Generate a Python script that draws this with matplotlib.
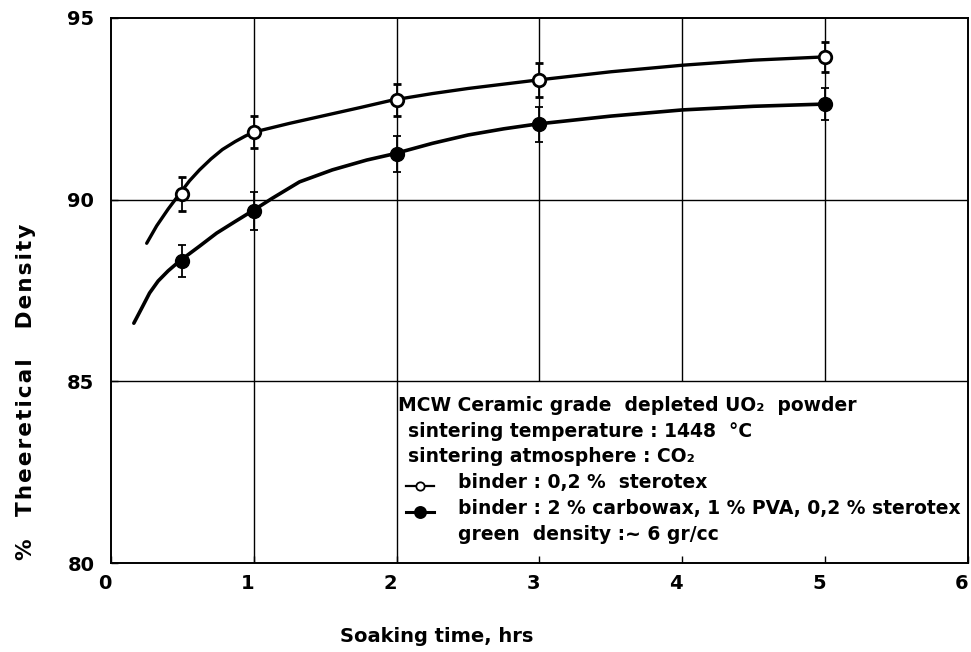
import matplotlib
matplotlib.use("Agg")
import matplotlib.pyplot as plt
import matplotlib.transforms as mtransforms
from matplotlib.lines import Line2D

# ---- data ----
x_pts = [0.5, 1.0, 2.0, 3.0, 5.0]
sterotex_y = [90.16, 91.86, 92.74, 93.29, 93.93]
sterotex_err = [0.46, 0.44, 0.45, 0.46, 0.42]
mixed_y = [88.31, 89.69, 91.26, 92.08, 92.63]
mixed_err = [0.45, 0.52, 0.49, 0.48, 0.45]

# fitted curves
sterotex_curve_x = [0.25, 0.32, 0.40, 0.48, 0.55, 0.62, 0.70, 0.78, 0.87, 0.94, 1.0,
                    1.25, 1.5, 1.75, 1.97, 2.25, 2.5, 2.75, 2.98, 3.5, 4.0, 4.5, 5.0]
sterotex_curve_y = [88.80, 89.28, 89.74, 90.16, 90.52, 90.82, 91.12, 91.38, 91.60, 91.75, 91.86,
                    92.10, 92.32, 92.54, 92.74, 92.92, 93.06, 93.18, 93.29, 93.52, 93.70, 93.84, 93.93]
mixed_curve_x = [0.16, 0.22, 0.27, 0.33, 0.40, 0.48, 0.62, 0.74, 0.87, 0.99,
                 1.13, 1.32, 1.55, 1.79, 1.98, 2.25, 2.5, 2.75, 2.98, 3.5, 4.0, 4.5, 4.99]
mixed_curve_y = [86.60, 87.05, 87.43, 87.76, 88.04, 88.31, 88.72, 89.08, 89.40, 89.69,
                 90.04, 90.49, 90.82, 91.09, 91.26, 91.55, 91.78, 91.95, 92.08, 92.30, 92.47, 92.57, 92.63]

x_ticks = [0, 1, 2, 3, 4, 5, 6]
y_ticks = [80, 85, 90, 95]
x_grid_full = [1, 2]
x_grid_upper = [3, 4, 5]
y_grid = [85, 90]

legend_header = ["MCW Ceramic grade  depleted UO\u2082  powder",
                 "sintering temperature : 1448  \u00b0C",
                 "sintering atmosphere : CO\u2082"]
legend_series = ["binder : 0,2 %  sterotex",
                 "binder : 2 % carbowax, 1 % PVA, 0,2 % sterotex"]
legend_footer = "green  density :~ 6 gr/cc"

plt.rcParams['font.family'] = ['DejaVu Sans']

fig = plt.figure(figsize=(9.71, 6.52), dpi=100)
ax = fig.add_axes([0.1143, 0.1365, 0.9969 - 0.1143, 0.9724 - 0.1365])
ax.set_xlim(0, 6)
ax.set_ylim(80, 95)

# grid
ax.vlines(x_grid_full, 80, 95, color='black', lw=1.0, zorder=1)
ax.vlines(x_grid_upper, 85, 95, color='black', lw=1.0, zorder=1)
ax.hlines(y_grid, 0, 6, color='black', lw=1.0, zorder=1)

# curves
ax.plot(sterotex_curve_x, sterotex_curve_y, color='black', lw=2.4, solid_capstyle='round', zorder=2)
ax.plot(mixed_curve_x, mixed_curve_y, color='black', lw=2.6, solid_capstyle='round', zorder=2)

# points with error bars
ax.errorbar(x_pts, sterotex_y, yerr=sterotex_err, fmt='o', color='black', mfc='white',
            mec='black', mew=2.0, ms=9, ecolor='black', elinewidth=1.3, capsize=3, capthick=1.3, zorder=3)
ax.errorbar(x_pts, mixed_y, yerr=mixed_err, fmt='o', color='black', mfc='black',
            mec='black', ms=10, ecolor='black', elinewidth=1.3, capsize=3, capthick=1.3, zorder=3)

# ticks
ax.set_xticks(x_ticks)
ax.set_yticks(y_ticks)
ax.set_xticklabels([str(v) for v in x_ticks], fontsize=14, fontweight='bold')
ax.set_yticklabels([str(v) for v in y_ticks], fontsize=14, fontweight='bold')
ax.tick_params(direction='in', length=5, width=1.0)
ax.tick_params(axis='x', pad=8)
ax.tick_params(axis='y', pad=12)
shift = mtransforms.ScaledTranslation(-6 / 100, 0, fig.dpi_scale_trans)
for lab in ax.get_xticklabels():
    lab.set_transform(lab.get_transform() + shift)
for s in ax.spines.values():
    s.set_linewidth(1.4)

# legend text block
tkw = dict(transform=ax.transAxes, fontsize=13.5, fontweight='bold', va='center', ha='left')
def ax_x(px):
    return (px - 111) / (968 - 111)
def ax_y(py):
    return (563 - py) / (563 - 18)
ax.text(ax_x(398), ax_y(405), legend_header[0], **tkw)
ax.text(ax_x(408), ax_y(431), legend_header[1], **tkw)
ax.text(ax_x(408), ax_y(456), legend_header[2], **tkw)
ax.text(ax_x(458), ax_y(482), legend_series[0], **tkw)
ax.text(ax_x(458), ax_y(508), legend_series[1], **tkw)
ax.text(ax_x(458), ax_y(534), legend_footer, **tkw)
for py, fc in [(486, 'white'), (512, 'black')]:
    ax.add_line(Line2D([ax_x(406), ax_x(434)], [ax_y(py), ax_y(py)], transform=ax.transAxes,
                       color='black', lw=1.6 if fc == 'white' else 2.2))
    ax.add_line(Line2D([ax_x(420)], [ax_y(py)], transform=ax.transAxes, marker='o',
                       mfc=fc, mec='black', mew=1.3, ms=6 if fc == 'white' else 8, color='black'))

# axis labels (letter-spaced like the original lettering)
def spaced(word):
    return "\u200a".join(word)
ylab = spaced("%") + "   " + spaced("Theeretical") + "    " + spaced("Density")
fig.text(0.027, 1 - 392 / 652, ylab, rotation=90, fontsize=15.5,
         fontweight='bold', ha='center', va='center')
fig.text(437 / 971, 1 - 637 / 652, "Soaking time, hrs", fontsize=14, fontweight='bold',
         ha='center', va='center')

fig.savefig("out.png", dpi=100)
